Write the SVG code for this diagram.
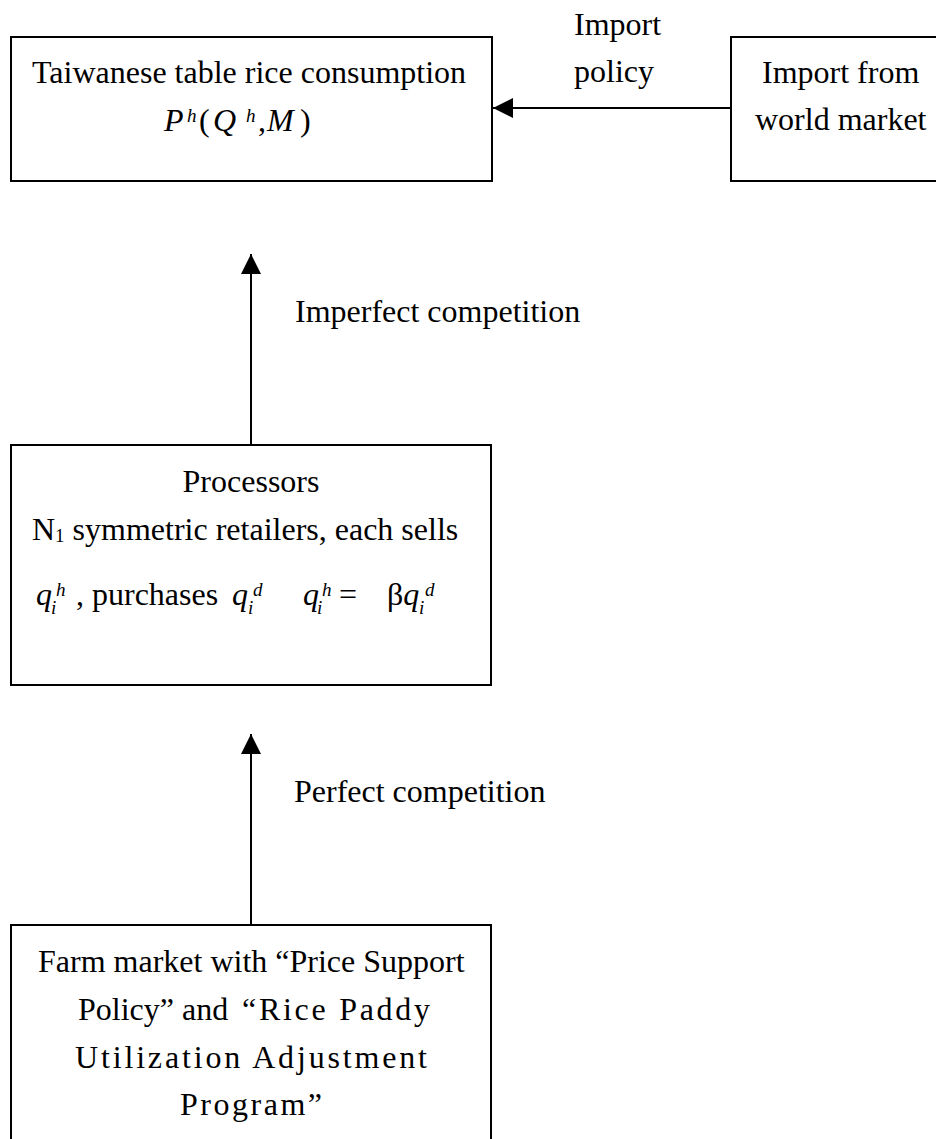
<svg xmlns="http://www.w3.org/2000/svg" width="936" height="1139" viewBox="0 0 936 1139">
<style>
.box{fill:#fff;stroke:#000;stroke-width:2}
.t{font-family:"Liberation Serif","Times New Roman",serif;font-size:32px;fill:#000}
.i{font-style:italic}
.s{font-size:19px}
.line{stroke:#000;stroke-width:2;fill:none}
</style>
<defs>
<marker id="ah" viewBox="0 0 20 20" refX="20" refY="10" markerWidth="20" markerHeight="20" markerUnits="userSpaceOnUse" orient="auto">
<path d="M0,0 L20,10 L0,20 Z" fill="#000"/>
</marker>
</defs>
<rect width="936" height="1139" fill="#fff"/>
<g id="connectors">
<line class="line" x1="731" y1="108" x2="493" y2="108" marker-end="url(#ah)"/>
<line class="line" x1="251" y1="445" x2="251" y2="254" marker-end="url(#ah)"/>
<line class="line" x1="251" y1="925" x2="251" y2="734" marker-end="url(#ah)"/>
<text class="t" x="574" y="35">Import</text>
<text class="t" x="574" y="82">policy</text>
<text class="t" x="295" y="322">Imperfect competition</text>
<text class="t" x="294" y="802">Perfect competition</text>
</g>
<g id="consumption">
<rect class="box" x="11" y="37" width="481" height="144"/>
<text class="t" x="32" y="83">Taiwanese table rice consumption</text>
<text class="t i" x="164" y="131">P</text>
<text class="t i s" x="187" y="122">h</text>
<text class="t" x="199" y="131">(</text>
<text class="t i" x="213" y="131">Q</text>
<text class="t i s" x="246" y="122">h</text>
<text class="t" x="258" y="131">,</text>
<text class="t i" x="267" y="131">M</text>
<text class="t" x="300" y="131">)</text>
</g>
<g id="world">
<rect class="box" x="731" y="37" width="230" height="144"/>
<text class="t" x="762" y="83">Import from</text>
<text class="t" x="755" y="130">world market</text>
</g>
<g id="processors">
<rect class="box" x="11" y="445" width="480" height="240"/>
<text class="t" x="251" y="492" text-anchor="middle">Processors</text>
<text class="t" x="32" y="540">N<tspan font-size="19" dy="2">1</tspan><tspan dy="-2"> symmetric retailers, each sells</tspan></text>
<text class="t i" x="36" y="605">q</text>
<text class="t i s" x="56" y="596">h</text>
<text class="t i s" x="51" y="614">i</text>
<text class="t" x="76" y="605">, purchases</text>
<text class="t i" x="232" y="605">q</text>
<text class="t i s" x="253" y="596">d</text>
<text class="t i s" x="248" y="614">i</text>
<text class="t i" x="303" y="605">q</text>
<text class="t i s" x="322" y="596">h</text>
<text class="t i s" x="317" y="614">i</text>
<text class="t" x="339" y="605">=</text>
<text class="t" x="387" y="605">β<tspan font-style="italic">q</tspan></text>
<text class="t i s" x="425" y="596">d</text>
<text class="t i s" x="419" y="614">i</text>
</g>
<g id="farm">
<rect class="box" x="11" y="925" width="480" height="240"/>
<text class="t" x="38" y="972">Farm market with “Price Support</text>
<text class="t" x="78" y="1020">Policy” and <tspan x="242" textLength="188" lengthAdjust="spacing">“Rice Paddy</tspan></text>
<text class="t" x="75" y="1068" textLength="352" lengthAdjust="spacing">Utilization Adjustment</text>
<text class="t" x="180" y="1115" textLength="142" lengthAdjust="spacing">Program”</text>
</g>
</svg>
